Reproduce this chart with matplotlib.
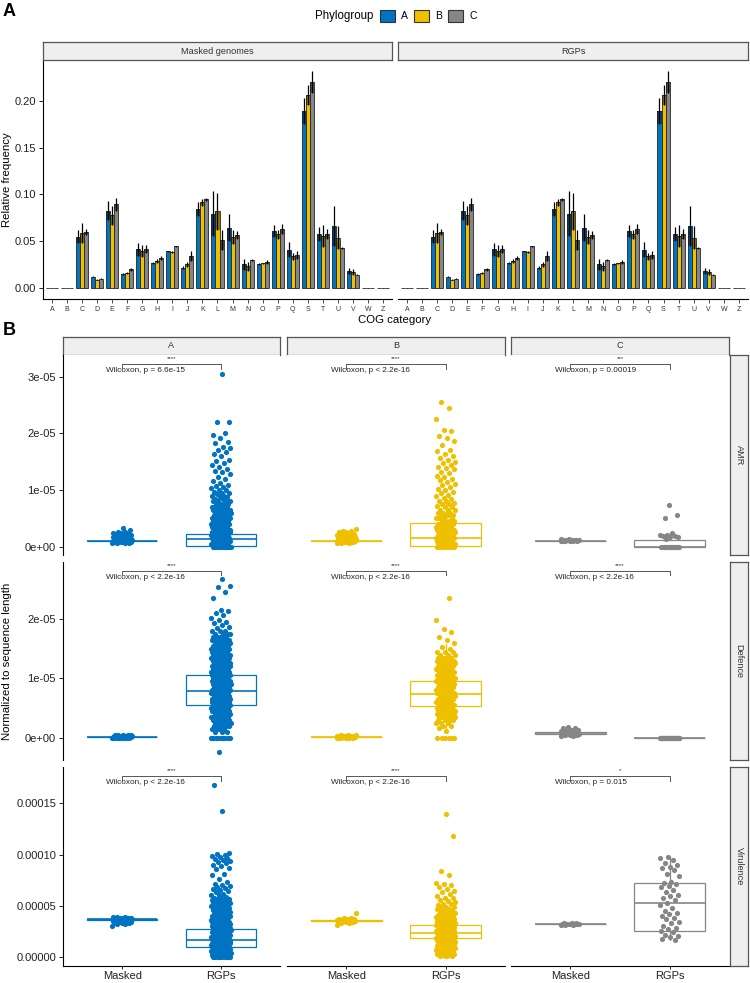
import numpy as np
import matplotlib
matplotlib.use('Agg')
import matplotlib.pyplot as plt
from matplotlib.patches import Patch

plt.rcParams['font.family'] = ['Liberation Sans', 'DejaVu Sans']

# ---------------- data : panel A ----------------
cog_cats = ["A", "B", "C", "D", "E", "F", "G", "H", "I", "J", "K", "L", "M",
            "N", "O", "P", "Q", "S", "T", "U", "V", "W", "Z"]
phylogroups = ["A", "B", "C"]
pg_colors = {"A": "#0073C2", "B": "#EFC000", "C": "#868686"}

masked_mean_A = [0, 0, 0.055, 0.0124, 0.0827, 0.0152, 0.0417, 0.0272, 0.0392, 0.022, 0.0845, 0.0795,
                 0.0647, 0.0254, 0.026, 0.0611, 0.041, 0.189, 0.058, 0.066, 0.0184, 0, 0]
masked_err_A = [0, 0, 0.007, 0.001, 0.010, 0.0008, 0.007, 0.001, 0.0008, 0.0015, 0.007, 0.024,
                0.014, 0.006, 0.0008, 0.006, 0.008, 0.014, 0.0075, 0.0215, 0.003, 0, 0]
masked_mean_B = [0, 0, 0.059, 0.0092, 0.0777, 0.0163, 0.0396, 0.029, 0.0385, 0.0254, 0.0915, 0.082,
                 0.0544, 0.0233, 0.0265, 0.0576, 0.034, 0.206, 0.0558, 0.054, 0.017, 0, 0]
masked_err_B = [0, 0, 0.011, 0.0008, 0.010, 0.001, 0.0065, 0.002, 0.0008, 0.003, 0.004, 0.020,
                0.0074, 0.005, 0.0008, 0.0046, 0.0035, 0.0105, 0.0115, 0.012, 0.003, 0, 0]
masked_mean_C = [0, 0, 0.060, 0.010, 0.0894, 0.020, 0.0417, 0.0325, 0.0445, 0.0343, 0.0947, 0.0512,
                 0.0569, 0.0297, 0.0283, 0.0632, 0.0353, 0.220, 0.058, 0.043, 0.0145, 0, 0]
masked_err_C = [0, 0, 0.0036, 0.0006, 0.0068, 0.0015, 0.0046, 0.002, 0.0008, 0.005, 0.0015, 0.011,
                0.004, 0.001, 0.002, 0.005, 0.004, 0.012, 0.005, 0.001, 0.001, 0, 0]

rgps_mean_A = [0, 0, 0.055, 0.0124, 0.0827, 0.0152, 0.0417, 0.0272, 0.0392, 0.022, 0.0845, 0.0795,
               0.0647, 0.0254, 0.026, 0.0611, 0.041, 0.189, 0.058, 0.066, 0.0184, 0, 0]
rgps_err_A = [0, 0, 0.007, 0.001, 0.010, 0.0008, 0.007, 0.001, 0.0008, 0.0015, 0.007, 0.024,
              0.014, 0.006, 0.0008, 0.006, 0.008, 0.014, 0.0075, 0.0215, 0.003, 0, 0]
rgps_mean_B = [0, 0, 0.059, 0.0092, 0.0777, 0.0163, 0.0396, 0.029, 0.0385, 0.0254, 0.0915, 0.082,
               0.0544, 0.0233, 0.0265, 0.0576, 0.034, 0.206, 0.0558, 0.054, 0.017, 0, 0]
rgps_err_B = [0, 0, 0.011, 0.0008, 0.010, 0.001, 0.0065, 0.002, 0.0008, 0.003, 0.004, 0.020,
              0.0074, 0.005, 0.0008, 0.0046, 0.0035, 0.0105, 0.0115, 0.012, 0.003, 0, 0]
rgps_mean_C = [0, 0, 0.060, 0.010, 0.0894, 0.020, 0.0417, 0.0325, 0.0445, 0.0343, 0.0947, 0.0512,
               0.0569, 0.0297, 0.0283, 0.0632, 0.0353, 0.220, 0.058, 0.043, 0.0145, 0, 0]
rgps_err_C = [0, 0, 0.0036, 0.0006, 0.0068, 0.0015, 0.0046, 0.002, 0.0008, 0.005, 0.0015, 0.011,
              0.004, 0.001, 0.002, 0.005, 0.004, 0.012, 0.005, 0.001, 0.001, 0, 0]

facet_titles = ["Masked genomes", "RGPs"]

# ---------------- data : panel B (values in units of 1e-6) ----------------
gene_rows = ["AMR", "Defence", "Virulence"]
groups = ["Masked", "RGPs"]

amr_A_masked_vals = [0.6, 0.8, 1.0, 1.2, 1.4, 1.6, 1.8, 2.0, 2.2, 2.4, 2.6, 2.9, 3.2]
amr_A_masked_cnt = [4, 6, 8, 7, 6, 5, 4, 3, 3, 2, 2, 1, 1]
amr_A_rgps_vals = [0.0, 0.5, 1.0, 1.5, 2.0, 2.5, 3.0, 3.5, 4.0, 4.5, 5.0, 5.5, 6.0, 6.5, 7.0, 7.5, 8.0,
                   8.4, 8.7, 9.0, 9.2, 9.5, 9.7, 10.0, 10.3, 10.5, 10.6, 10.9, 11.2, 11.6, 12.0, 12.3,
                   12.8, 13.1, 13.3, 13.6, 14.0, 14.4, 14.8, 15.1, 15.3, 15.9, 16.3, 16.7, 17.0, 17.3,
                   17.6, 18.2, 18.4, 19.1, 19.6, 20.0, 21.9, 22.0, 30.5]
amr_A_rgps_cnt = [12, 8, 8, 8, 8, 8, 7, 7, 7, 6, 6, 6, 5, 5, 5, 4, 4,
                  2, 2, 2, 1, 2, 1, 2, 1, 1, 1, 1, 1, 1, 1, 1,
                  1, 1, 1, 1, 1, 1, 1, 1, 1, 1, 1, 1, 1, 1,
                  1, 1, 1, 1, 1, 1, 1, 1, 1]
amr_B_masked_vals = [0.6, 0.8, 1.0, 1.2, 1.4, 1.6, 1.8, 2.0, 2.2, 2.5, 2.8, 3.1]
amr_B_masked_cnt = [3, 5, 7, 6, 5, 4, 3, 3, 2, 2, 2, 1]
amr_B_rgps_vals = [0.0, 0.5, 1.0, 1.5, 2.0, 2.5, 3.0, 3.5, 4.0, 4.5, 5.0, 5.5, 6.0, 6.5,
                   6.9, 7.2, 7.5, 7.7, 8.0, 8.3, 8.6, 8.9, 9.1, 9.4, 9.7, 9.9, 10.2, 10.5, 10.8,
                   11.1, 11.4, 11.7, 11.9, 12.3, 12.5, 12.9, 13.2, 13.6, 13.8, 14.1, 14.4, 14.7,
                   15.0, 15.3, 15.6, 15.9, 16.4, 16.9, 17.1, 17.9, 18.7, 19.2, 19.5, 20.3, 20.6,
                   22.5, 24.4, 25.5]
amr_B_rgps_cnt = [8, 6, 6, 6, 6, 5, 5, 5, 5, 4, 4, 4, 3, 3,
                  2, 1, 2, 1, 2, 1, 1, 1, 1, 1, 1, 1, 1, 1, 1,
                  1, 1, 1, 1, 1, 1, 1, 1, 1, 1, 1, 1, 1,
                  1, 1, 1, 1, 1, 1, 1, 1, 1, 1, 1, 1, 1,
                  1, 1, 1]
amr_C_masked_vals = [0.9, 1.0, 1.1, 1.2, 1.4]
amr_C_masked_cnt = [2, 4, 4, 2, 2]
amr_C_rgps_vals = [0.0, 1.4, 1.6, 1.7, 1.8, 1.9, 2.0, 2.1, 2.3, 5.1, 5.5, 7.3]
amr_C_rgps_cnt = [14, 1, 1, 1, 1, 1, 1, 1, 1, 1, 1, 1]

def_A_masked_vals = [0.0, 0.1, 0.2, 0.3, 0.4, 0.5]
def_A_masked_cnt = [8, 8, 7, 5, 3, 2]
def_A_rgps_vals = [-2.4, 0.0, 1.0, 1.5, 2.0, 2.5, 3.0, 3.5, 4.0, 4.5, 5.0, 5.5, 6.0, 6.5, 7.0, 7.5,
                   8.0, 8.5, 9.0, 9.5, 10.0, 10.5, 11.0, 11.5, 12.0, 12.5, 13.0, 13.5, 14.0, 14.5,
                   15.0, 15.5, 16.0, 16.5, 17.0, 17.5, 18.0,
                   18.4, 18.7, 19.0, 19.3, 19.5, 19.8, 20.2, 20.6, 21.0, 21.3, 21.5, 23.6, 24.5,
                   25.4, 25.5, 26.8]
def_A_rgps_cnt = [1, 9, 3, 4, 5, 5, 7, 7, 7, 7, 7, 7, 7, 7, 7, 7,
                  7, 7, 7, 7, 7, 7, 7, 7, 7, 7, 7, 7, 7, 7,
                  6, 6, 5, 5, 4, 4, 3,
                  1, 1, 1, 1, 1, 1, 1, 1, 1, 1, 1, 1, 1,
                  1, 1, 1]
def_B_masked_vals = [0.0, 0.1, 0.2, 0.3, 0.4]
def_B_masked_cnt = [6, 6, 5, 4, 3]
def_B_rgps_vals = [0.0, 1.2, 1.6, 2.0, 2.5, 3.0, 3.5, 4.0, 4.5, 5.0, 5.5, 6.0, 6.5, 7.0, 7.5, 8.0,
                   8.5, 9.0, 9.5, 10.0, 10.5, 11.0, 11.5, 12.0, 12.5, 13.0, 13.5, 14.0, 14.5,
                   15.0, 15.3, 15.9, 16.4, 17.0, 17.8, 18.3, 19.8, 23.5]
def_B_rgps_cnt = [6, 1, 1, 2, 3, 4, 5, 5, 5, 5, 5, 5, 5, 5, 5, 5,
                  5, 5, 5, 5, 5, 5, 5, 5, 5, 4, 4, 3, 3,
                  1, 1, 1, 1, 1, 1, 1, 1, 1]
def_C_masked_vals = [0.3, 0.5, 0.7, 0.9, 1.1, 1.3, 1.6, 1.8]
def_C_masked_cnt = [2, 3, 4, 4, 3, 2, 2, 1]
def_C_rgps_vals = [0.0]
def_C_rgps_cnt = [40]

vir_A_masked_vals = [30, 32, 33, 34, 35, 36, 37, 38, 39]
vir_A_masked_cnt = [1, 2, 3, 4, 5, 6, 7, 6, 3]
vir_A_rgps_vals = [0, 2, 4, 6, 8, 10, 12, 14, 16, 18, 20, 22, 24, 26, 28, 30, 32, 34, 36, 38, 40,
                   42, 44, 46, 48, 50,
                   51, 52.5, 53, 54, 55.5, 56, 57, 58, 59, 60.5, 61, 62, 63, 64.5, 65, 66, 67,
                   68.5, 69, 70.5, 71,
                   73, 76, 80.5, 81, 85.5, 87, 89, 90, 91.5, 93, 94, 95, 96, 97, 98, 99, 100,
                   101, 102, 142, 168]
vir_A_rgps_cnt = [10, 8, 8, 8, 8, 8, 8, 8, 8, 8, 7, 7, 7, 7, 7, 7, 7, 6, 6, 6, 6,
                  5, 5, 5, 4, 4,
                  2, 2, 2, 2, 2, 2, 2, 2, 1, 1, 1, 1, 1, 1, 1, 1, 1,
                  1, 1, 1, 1,
                  1, 1, 1, 1, 1, 1, 1, 1, 1, 1, 1, 1, 1, 1, 1, 1, 1,
                  1, 1, 1, 1]
vir_B_masked_vals = [31, 33, 34, 35, 36, 37, 38, 43]
vir_B_masked_cnt = [1, 2, 4, 5, 4, 3, 2, 1]
vir_B_rgps_vals = [1, 3, 5, 7, 9, 11, 13, 15, 17, 19, 21, 23, 25, 27, 29, 31, 33, 35, 37, 39, 41,
                   43, 45, 47, 49,
                   50.5, 51.5, 52, 53.5, 55, 56, 57.5, 58, 60, 61.5, 63, 64, 66, 68, 70, 71, 72,
                   80, 84, 118, 140]
vir_B_rgps_cnt = [4, 4, 4, 5, 5, 5, 5, 6, 6, 6, 6, 6, 6, 6, 6, 5, 5, 5, 4, 4, 4,
                  3, 3, 3, 3,
                  1, 1, 1, 1, 1, 1, 1, 1, 1, 1, 1, 1, 1, 1, 1, 1, 1,
                  1, 1, 1, 1]
vir_C_masked_vals = [31, 32, 33]
vir_C_masked_cnt = [3, 6, 3]
vir_C_rgps_vals = [98, 97, 95, 92, 90, 88, 87, 85, 81, 79, 73, 72, 71, 69, 68, 65, 63, 61, 60, 58,
                   56, 53, 51, 48, 45, 43, 42, 40, 38, 37, 34, 33, 30, 28, 27, 25, 24, 22, 21, 20,
                   18, 17]
vir_C_rgps_cnt = [1] * len(vir_C_rgps_vals)

# box statistics (whislo, q1, med, q3, whishi), units 1e-6
box_stats = {
    ("AMR", "A"): [(0.8, 0.95, 1.0, 1.05, 1.2), (0.0, 0.1, 1.4, 2.2, 5.3)],
    ("AMR", "B"): [(0.8, 0.95, 1.0, 1.05, 1.2), (0.0, 0.1, 1.5, 4.1, 8.1)],
    ("AMR", "C"): [(0.9, 0.95, 1.0, 1.05, 1.1), (0.0, 0.0, 0.0, 1.1, 2.3)],
    ("Defence", "A"): [(0.0, 0.05, 0.1, 0.15, 0.3), (1.2, 5.5, 7.9, 10.6, 18.2)],
    ("Defence", "B"): [(0.0, 0.05, 0.1, 0.15, 0.3), (1.0, 5.4, 7.3, 9.6, 15.8)],
    ("Defence", "C"): [(0.5, 0.7, 0.8, 0.9, 1.2), (0.0, 0.0, 0.0, 0.0, 0.0)],
    ("Virulence", "A"): [(35, 36.5, 37, 37.5, 39), (0, 9.4, 16.8, 27.2, 54)],
    ("Virulence", "B"): [(34, 35.2, 35.6, 36.0, 37), (1, 18.4, 23.6, 31.4, 50)],
    ("Virulence", "C"): [(31.5, 32.0, 32.3, 32.6, 33), (17, 25.9, 53.1, 72.1, 98)],
}

points = {
    ("AMR", "A"): [(amr_A_masked_vals, amr_A_masked_cnt), (amr_A_rgps_vals, amr_A_rgps_cnt)],
    ("AMR", "B"): [(amr_B_masked_vals, amr_B_masked_cnt), (amr_B_rgps_vals, amr_B_rgps_cnt)],
    ("AMR", "C"): [(amr_C_masked_vals, amr_C_masked_cnt), (amr_C_rgps_vals, amr_C_rgps_cnt)],
    ("Defence", "A"): [(def_A_masked_vals, def_A_masked_cnt), (def_A_rgps_vals, def_A_rgps_cnt)],
    ("Defence", "B"): [(def_B_masked_vals, def_B_masked_cnt), (def_B_rgps_vals, def_B_rgps_cnt)],
    ("Defence", "C"): [(def_C_masked_vals, def_C_masked_cnt), (def_C_rgps_vals, def_C_rgps_cnt)],
    ("Virulence", "A"): [(vir_A_masked_vals, vir_A_masked_cnt), (vir_A_rgps_vals, vir_A_rgps_cnt)],
    ("Virulence", "B"): [(vir_B_masked_vals, vir_B_masked_cnt), (vir_B_rgps_vals, vir_B_rgps_cnt)],
    ("Virulence", "C"): [(vir_C_masked_vals, vir_C_masked_cnt), (vir_C_rgps_vals, vir_C_rgps_cnt)],
}

p_labels = [["Wilcoxon, p = 6.6e-15", "Wilcoxon, p < 2.2e-16", "Wilcoxon, p = 0.00019"],
            ["Wilcoxon, p < 2.2e-16", "Wilcoxon, p < 2.2e-16", "Wilcoxon, p < 2.2e-16"],
            ["Wilcoxon, p < 2.2e-16", "Wilcoxon, p < 2.2e-16", "Wilcoxon, p = 0.015"]]
star_labels = [["****", "****", "***"],
               ["****", "****", "****"],
               ["****", "****", "*"]]

row_ylim = {"AMR": (-1.5, 33.8), "Defence": (-3.76, 29.6), "Virulence": (-8.7, 185.4)}
row_ticks = {"AMR": [0, 10, 20, 30], "Defence": [0, 10, 20], "Virulence": [0, 50, 100, 150]}
row_ticklabels = {"AMR": ["0e+00", "1e-05", "2e-05", "3e-05"],
                  "Defence": ["0e+00", "1e-05", "2e-05"],
                  "Virulence": ["0.00000", "0.00005", "0.00010", "0.00015"]}

# ---------------- figure ----------------
W, H = 750, 983
fig = plt.figure(figsize=(W / 100, H / 100), dpi=100)


def ax_px(x0, y0, x1, y1):
    return fig.add_axes([x0 / W, 1 - y1 / H, (x1 - x0) / W, (y1 - y0) / H])


def strip(x0, y0, x1, y1, text, rotation=0, fs=6.6):
    s = ax_px(x0, y0, x1, y1)
    s.set_facecolor("#EFEFEF")
    s.set_xticks([]); s.set_yticks([])
    for sp in s.spines.values():
        sp.set_color("#555555"); sp.set_linewidth(0.9)
    s.text(0.5, 0.5, text, ha="center", va="center", rotation=rotation,
           fontsize=fs, color="#333333", transform=s.transAxes)
    return s


# ---------- panel A ----------
panelA = [((43, 60, 392, 299), [masked_mean_A, masked_mean_B, masked_mean_C],
           [masked_err_A, masked_err_B, masked_err_C]),
          ((398, 60, 748, 299), [rgps_mean_A, rgps_mean_B, rgps_mean_C],
           [rgps_err_A, rgps_err_B, rgps_err_C])]
ymax = max(max(np.array(m) + np.array(e)) for _, ms, es in panelA for m, e in zip(ms, es))
n = len(cog_cats)
bw = 0.8 / 3
for k, (box, means, errs) in enumerate(panelA):
    ax = ax_px(*box)
    x = np.arange(n)
    for g, pg in enumerate(phylogroups):
        m = np.array(means[g]); e = np.array(errs[g])
        xs = x + (g - 1) * bw
        ax.bar(xs, m, width=bw, color=pg_colors[pg], edgecolor="#262626", linewidth=0.6, zorder=2)
        ax.bar(xs, e, bottom=m - e, width=bw, color="black", alpha=0.4, linewidth=0, zorder=3)
        ax.errorbar(xs, m, yerr=e, fmt="none", ecolor="black", elinewidth=0.9, capsize=0, zorder=4)
    ax.set_xlim(-0.6, n - 0.4)
    ax.set_ylim(-0.05 * ymax, 1.05 * ymax)
    ax.set_xticks(x)
    ax.set_xticklabels(cog_cats, fontsize=5, color="#333333")
    ax.tick_params(axis="x", length=3, width=0.6, pad=2, color="#333333")
    for sp in ["top", "right"]:
        ax.spines[sp].set_visible(False)
    ax.spines["bottom"].set_linewidth(0.8)
    if k == 0:
        ax.set_yticks([0, 0.05, 0.10, 0.15, 0.20])
        ax.set_yticklabels(["0.00", "0.05", "0.10", "0.15", "0.20"], fontsize=8, color="#222222")
        ax.tick_params(axis="y", length=3, width=0.6, pad=2)
        ax.spines["left"].set_linewidth(0.8)
    else:
        ax.set_yticks([])
        ax.spines["left"].set_visible(False)
    strip(box[0], 42, box[2], 60, facet_titles[k])

fig.text(7.5 / W, 1 - 180 / H, "Relative frequency", rotation=90, ha="center", va="center", fontsize=8.2)
fig.text(395 / W, 1 - 320 / H, "COG category", ha="center", va="center", fontsize=8.2)

handles = [Patch(facecolor=pg_colors[p], edgecolor="#333333", linewidth=0.8) for p in phylogroups]
fig.legend(handles, phylogroups, ncol=3, loc="center left", bbox_to_anchor=(380 / W, 1 - 16 / H),
           frameon=False, fontsize=7.5, handlelength=1.45, handleheight=1.45, handletextpad=0.6,
           columnspacing=0.55, borderpad=0, borderaxespad=0)
fig.text(373 / W, 1 - 16 / H, "Phylogroup", ha="right", va="center", fontsize=8.3)

fig.text(3 / W, 1 - 12 / H, "A", fontsize=13, fontweight="bold", ha="left", va="center")
fig.text(3 / W, 1 - 330 / H, "B", fontsize=13, fontweight="bold", ha="left", va="center")

# ---------- panel B ----------
col_x = [(63, 280), (287, 505), (511, 729)]
row_y = [(355, 555), (562, 760), (767, 966)]
golden = 0.6180339887

for c, pg in enumerate(phylogroups):
    strip(col_x[c][0], 337, col_x[c][1], 355, pg)
for r, gr in enumerate(gene_rows):
    strip(730, row_y[r][0], 748, row_y[r][1], gr, rotation=-90)

for r, gr in enumerate(gene_rows):
    for c, pg in enumerate(phylogroups):
        ax = ax_px(col_x[c][0], row_y[r][0], col_x[c][1], row_y[r][1])
        col = pg_colors[pg]
        stats = []
        for g, st in enumerate(box_stats[(gr, pg)]):
            wl, q1, md, q3, wh = st
            stats.append(dict(whislo=wl, q1=q1, med=md, q3=q3, whishi=wh, fliers=[], label=groups[g]))
        ax.bxp(stats, positions=[1, 2], widths=0.71, showcaps=False, showfliers=False,
               patch_artist=True,
               boxprops=dict(facecolor="white", edgecolor=col, linewidth=0.9),
               medianprops=dict(color=col, linewidth=1.2),
               whiskerprops=dict(color=col, linewidth=0.9), zorder=2)
        kidx = 0
        for g, (vals, cnt) in enumerate(points[(gr, pg)]):
            yv = np.repeat(np.array(vals, dtype=float), cnt)
            idx = np.arange(len(yv)) + kidx
            kidx += len(yv)
            xo = ((idx * golden) % 1.0 - 0.5) * 0.2
            ax.scatter(g + 1 + xo, yv, s=14, color=col, linewidths=0, zorder=3)
        ax.set_xlim(0.4, 2.6)
        ax.set_ylim(*row_ylim[gr])
        for sp in ["top", "right"]:
            ax.spines[sp].set_visible(False)
        if c == 0:
            ax.set_yticks(row_ticks[gr])
            ax.set_yticklabels(row_ticklabels[gr], fontsize=8, color="#222222")
            ax.tick_params(axis="y", length=3, width=0.6, pad=2)
            ax.spines["left"].set_linewidth(0.8)
        else:
            ax.set_yticks([])
            ax.spines["left"].set_visible(False)
        if r == 2:
            ax.set_xticks([1, 2])
            ax.set_xticklabels(groups, fontsize=8.0, color="#222222")
            ax.tick_params(axis="x", length=2.5, width=0.6, pad=1)
            ax.spines["bottom"].set_linewidth(0.8)
        else:
            ax.set_xticks([])
            ax.spines["bottom"].set_visible(False)
        # significance bracket
        tr = ax.get_xaxis_transform()
        ax.plot([1, 1, 2, 2], [0.932, 0.957, 0.957, 0.932], transform=tr, color="#555555",
                linewidth=0.7, clip_on=False, zorder=4)
        ax.text(1.5, 0.982, star_labels[r][c], transform=tr, ha="center", va="center",
                fontsize=4.5, color="#333333")
        ax.text(0.84, 0.922, p_labels[r][c], transform=tr, ha="left", va="center",
                fontsize=5.9, color="#222222")

fig.text(7.5 / W, 1 - 661 / H, "Normalized to sequence length", rotation=90, ha="center",
         va="center", fontsize=8.2)

fig.savefig("out.png", dpi=100)
